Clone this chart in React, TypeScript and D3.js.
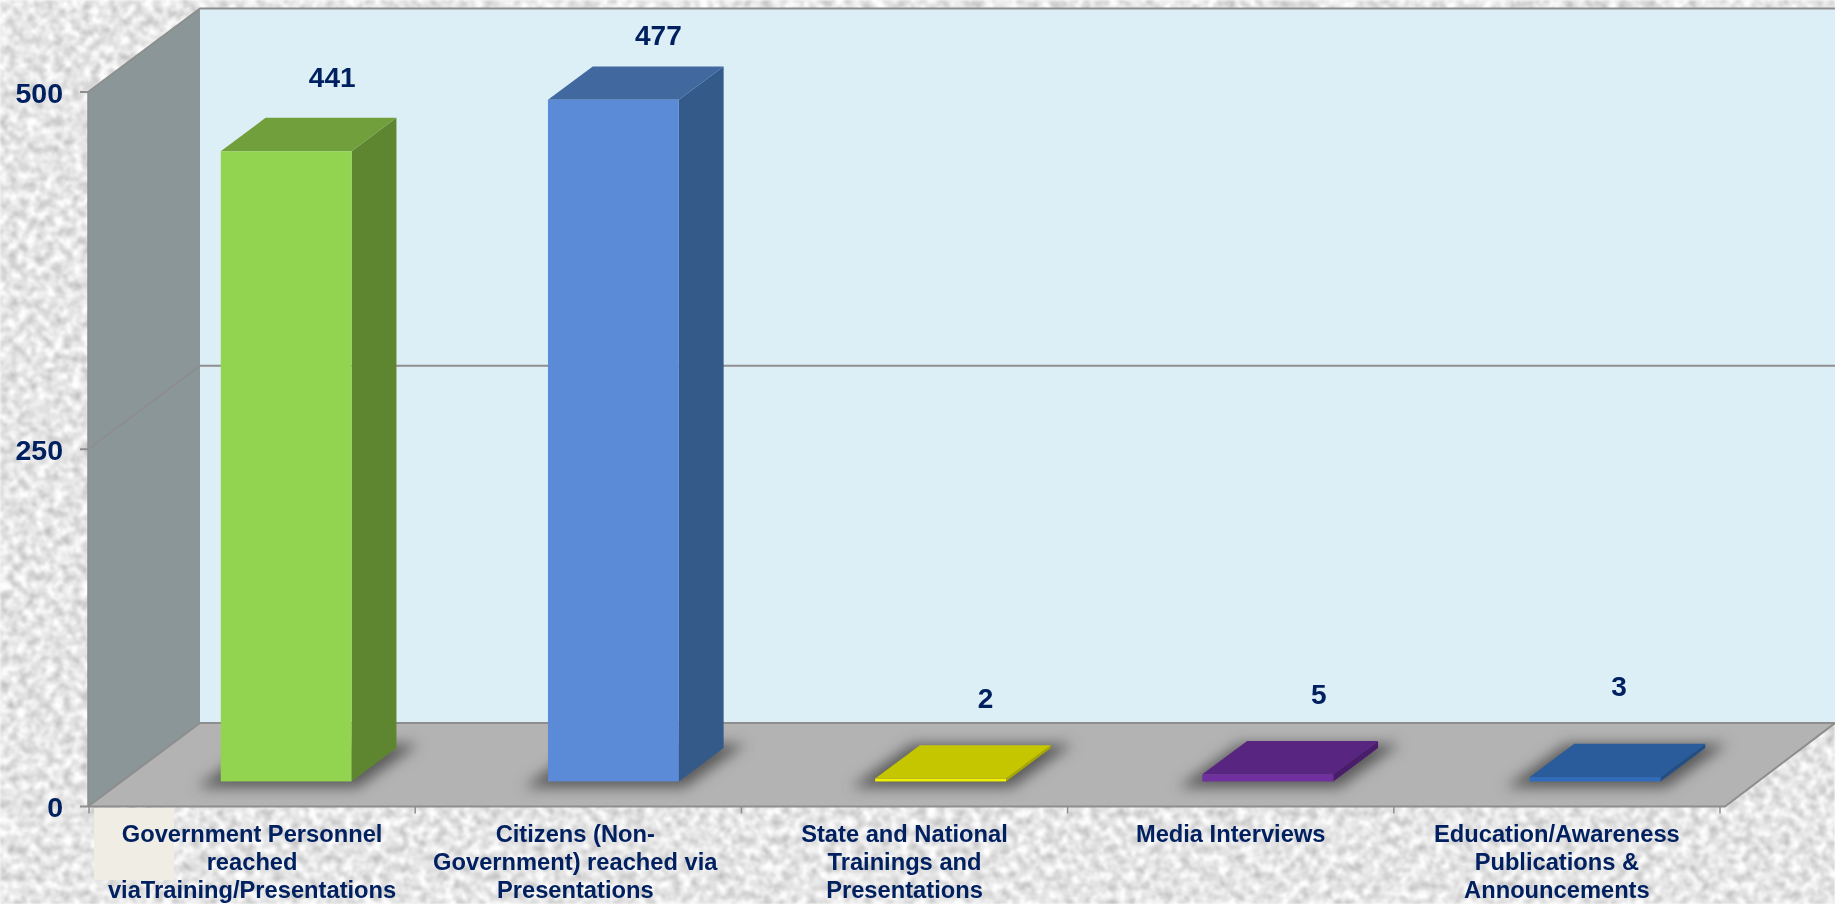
import React from "react";
import * as d3 from "d3";

// Outreach counts per activity
const categories = [
  ["Government Personnel", "reached", "viaTraining/Presentations"],
  ["Citizens (Non-", "Government) reached via", "Presentations"],
  ["State and National", "Trainings and", "Presentations"],
  ["Media Interviews"],
  ["Education/Awareness", "Publications &", "Announcements"],
];
const values = [441, 477, 2, 5, 3];
const yTicks = [0, 250, 500];

// Face colours of each column: front, top, side
const frontColors = ["#92d34f", "#5b8bd7", "#f2f200", "#7030a0", "#2f6cbc"];
const topColors = ["#709f3c", "#41699f", "#c6c600", "#582580", "#2a5b9a"];
const sideColors = ["#5e8630", "#345a89", "#a8a800", "#4a1d6c", "#234f87"];

// Hand-placed data label nudges
const labelDx = [46, 45, 45, 51, 24];
const labelDy = [-64, -55, -71, -70, -81];
const categoryDx = [0, -3, 0, 0, 0];

const W = 1835;
const H = 904;
const TEXT = "#002060";
const LINE = "#8e8e8e";
const FONT = "'Liberation Sans', Arial, sans-serif";

// Oblique projection of the chart box
const frontLeft = 88;
const frontRight = 1725;
const y0 = 806.5;
const y500 = 92;
const depthX = 112;
const depthY = 83.5;
const barDepth = 0.4;
const barFront = 0.3;

const y = d3.scaleLinear().domain([0, 500]).range([y0, y500]);
const band = d3
  .scaleBand<number>()
  .domain(values.map((_, i) => i))
  .range([89, 1725])
  .paddingInner(0.6)
  .paddingOuter(0.3);
const tickX = d3.scalePoint<number>().domain(d3.range(6)).range([89, 1720]);

const poly = d3.line<[number, number]>().curve(d3.curveLinearClosed);

function Column({ i }: { i: number }) {
  const inset = barFront * depthX;
  const lift = barFront * depthY;
  const dx = barDepth * depthX;
  const dy = barDepth * depthY;
  const x0 = band(i)! + inset;
  const x1 = x0 + band.bandwidth();
  const base = y0 - lift;
  const top = y(values[i]) - lift;
  return (
    <g>
      <path
        d={poly([
          [x0 - 24, base + 6],
          [x1 + 6, base + 6],
          [x1 + dx + 22, base - dy - 4],
          [x0 + dx - 8, base - dy - 4],
        ])!}
        fill="#5a5a5a"
        filter="url(#soft)"
        clipPath="url(#floorClip)"
      />
      <path
        d={poly([
          [x1, base],
          [x1 + dx, base - dy],
          [x1 + dx, top - dy],
          [x1, top],
        ])!}
        fill={sideColors[i]}
      />
      <path
        d={poly([
          [x0, top],
          [x1, top],
          [x1 + dx, top - dy],
          [x0 + dx, top - dy],
        ])!}
        fill={topColors[i]}
      />
      <rect x={x0} y={top} width={x1 - x0} height={base - top} fill={frontColors[i]} />
      <text
        x={x0 + band.bandwidth() / 2 + labelDx[i]}
        y={top + labelDy[i]}
        textAnchor="middle"
        fontSize={28}
        fontWeight="bold"
        fontFamily={FONT}
        fill={TEXT}
      >
        {values[i]}
      </text>
    </g>
  );
}

export default function App() {
  const floor = poly([
    [frontLeft, y0],
    [frontRight, y0],
    [frontRight + depthX, y0 - depthY],
    [frontLeft + depthX, y0 - depthY],
  ])!;
  const wall = poly([
    [frontLeft, y0],
    [frontLeft, y500],
    [frontLeft + depthX, y500 - depthY],
    [frontLeft + depthX, y0 - depthY],
  ])!;
  return (
    <svg
      width={W}
      height={H}
      viewBox={`0 0 ${W} ${H}`}
      style={{ position: "fixed", left: 0, top: 0, display: "block" }}
    >
      <defs>
        <filter id="stone" x="0" y="0" width="100%" height="100%" colorInterpolationFilters="sRGB">
          <feTurbulence type="fractalNoise" baseFrequency="0.11" numOctaves={3} seed={7} />
          <feColorMatrix
            type="matrix"
            values="0.42 0 0 0 0.69  0.42 0 0 0 0.69  0.42 0 0 0 0.69  0 0 0 0 1"
          />
          <feGaussianBlur stdDeviation="0.9" />
        </filter>
        <filter id="soft" x="-30%" y="-60%" width="160%" height="220%">
          <feGaussianBlur stdDeviation="7" />
        </filter>
        <clipPath id="floorClip">
          <path d={floor} />
        </clipPath>
      </defs>

      <rect width={W} height={H} filter="url(#stone)" />
      <rect x={94} y={808} width={80} height={72} fill="#f0ede4" />

      {/* Back wall, side wall and floor */}
      <rect x={frontLeft + depthX} y={y500 - depthY} width={W - frontLeft - depthX} height={y0 - y500} fill="#dceff7" />
      <path d={wall} fill="#8a9698" />
      <path d={floor} fill="#b3b3b3" />

      {/* Gridlines run across the back wall and down the side wall */}
      {yTicks.map((t) => (
        <path
          key={t}
          d={`M${frontLeft},${y(t)}L${frontLeft + depthX},${y(t) - depthY}L${W},${y(t) - depthY}`}
          fill="none"
          stroke={LINE}
          strokeWidth={2}
        />
      ))}
      <path d={`M${frontLeft},${y0}V${y500}`} stroke={LINE} strokeWidth={1.5} fill="none" />
      <path d={`M${frontLeft},${y0}H${frontRight}L${W},${y0 - depthY}`} stroke={LINE} strokeWidth={2} fill="none" />

      {/* Axis ticks and labels */}
      {yTicks.map((t) => (
        <g key={t}>
          <line x1={80} x2={frontLeft} y1={y(t)} y2={y(t)} stroke={LINE} strokeWidth={2} />
          <text
            x={63}
            y={y(t) + 10.5}
            textAnchor="end"
            fontSize={28.5}
            fontWeight="bold"
            fontFamily={FONT}
            fill={TEXT}
          >
            {t}
          </text>
        </g>
      ))}
      {tickX.domain().map((k) => (
        <line key={k} x1={tickX(k)} x2={tickX(k)} y1={y0} y2={y0 + 7} stroke={LINE} strokeWidth={1.5} />
      ))}

      {values.map((_, i) => (
        <Column key={i} i={i} />
      ))}

      {categories.map((lines, i) => (
        <text
          key={i}
          textAnchor="middle"
          fontSize={23.7}
          fontWeight="bold"
          fontFamily={FONT}
          fill={TEXT}
        >
          {lines.map((line, j) => (
            <tspan key={j} x={(tickX(i)! + tickX(i + 1)!) / 2 + categoryDx[i]} y={842 + j * 27.8}>
              {line}
            </tspan>
          ))}
        </text>
      ))}
    </svg>
  );
}
